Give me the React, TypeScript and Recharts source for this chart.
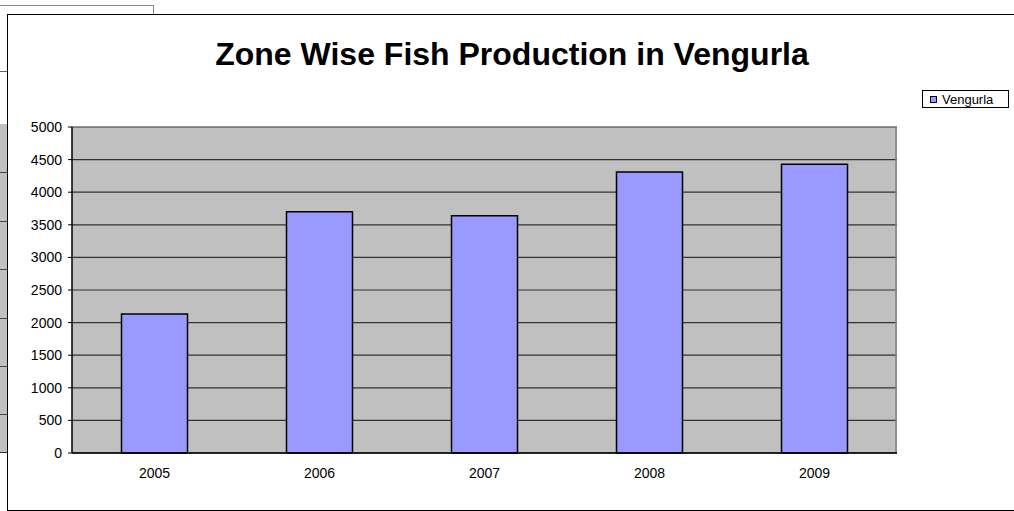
import { BarChart, Bar, XAxis, YAxis, CartesianGrid } from 'recharts';

const years = ['2005', '2006', '2007', '2008', '2009'];
const vengurla = [2130, 3700, 3640, 4310, 4430];
const yTicks = [0, 500, 1000, 1500, 2000, 2500, 3000, 3500, 4000, 4500, 5000];
const boundaryTicks = [0, 1, 2, 3, 4, 5];

const font = 'Arial, "Liberation Sans", sans-serif';

function VengurlaLegend() {
  return (
    <div
      style={{
        position: 'absolute',
        left: 922,
        top: 90,
        width: 85,
        height: 16,
        border: '1px solid #000',
        background: '#fff',
        display: 'flex',
        alignItems: 'center',
        fontFamily: font,
        fontSize: 13,
        color: '#000',
      }}
    >
      <span
        style={{
          display: 'inline-block',
          width: 5,
          height: 5,
          border: '1.5px solid #000',
          background: '#9999FF',
          marginLeft: 7,
          marginRight: 5,
        }}
      />
      Vengurla
    </div>
  );
}

export default function App() {
  const chartData = years.map((year, i) => ({ year, idx: i + 0.5, value: vengurla[i] }));

  return (
    <div style={{ position: 'absolute', left: 0, top: 0, width: 1014, height: 511, background: '#fff', overflow: 'hidden' }}>
      {/* bits of the spreadsheet behind the chart */}
      <div style={{ position: 'absolute', left: 0, top: 5, width: 153, height: 12, borderTop: '1px solid #888', borderRight: '1px solid #888' }} />
      <div style={{ position: 'absolute', left: 0, top: 71, width: 8, borderTop: '1px solid #666' }} />
      <div style={{ position: 'absolute', left: 0, top: 124, width: 8, height: 328, background: '#C0C0C0', borderBottom: '1px solid #333' }} />
      {[172, 221, 269, 318, 366, 414].map((y) => (
        <div key={y} style={{ position: 'absolute', left: 0, top: y, width: 8, borderTop: '1px solid #444' }} />
      ))}

      {/* chart area */}
      <div style={{ position: 'absolute', left: 7, top: 14, width: 1020, height: 495, border: '1.5px solid #000', background: '#fff' }} />
      <div
        style={{
          position: 'absolute',
          left: 0,
          top: 38,
          width: 1024,
          textAlign: 'center',
          fontFamily: font,
          fontWeight: 'bold',
          fontSize: 32,
          lineHeight: 1,
          color: '#000',
        }}
      >
        Zone Wise Fish Production in Vengurla
      </div>

      <div style={{ position: 'absolute', left: 0, top: 0 }}>
        <BarChart
          width={1014}
          height={511}
          data={chartData}
          margin={{ top: 127, right: 117, left: 12, bottom: 29 }}
          barCategoryGap="30%"
          style={{ fontFamily: font }}
        >
          <CartesianGrid vertical={false} stroke="#333" strokeWidth={1.2} fill="#C0C0C0" fillOpacity={1} />
          <CartesianGrid horizontal={false} verticalPoints={[896]} stroke="#808080" strokeWidth={1.5} />
          <XAxis
            xAxisId="edges"
            type="number"
            dataKey="idx"
            domain={[0, 5]}
            ticks={boundaryTicks}
            height={0}
            tick={false}
            tickSize={4}
            axisLine={false}
            tickLine={{ stroke: '#000' }}
          />
          <XAxis
            dataKey="year"
            height={29}
            tickLine={false}
            tickSize={0}
            tickMargin={15}
            axisLine={{ stroke: '#000', strokeWidth: 1.5 }}
            tick={{ fill: '#000', fontSize: 14, fontFamily: font }}
          />
          <YAxis
            width={60}
            domain={[0, 5000]}
            ticks={yTicks}
            interval={0}
            tickSize={4}
            tickMargin={6}
            axisLine={{ stroke: '#000', strokeWidth: 1.5 }}
            tickLine={{ stroke: '#000' }}
            tick={{ fill: '#000', fontSize: 14, fontFamily: font }}
          />
          <Bar dataKey="value" name="Vengurla" fill="#9999FF" stroke="#000" strokeWidth={1.5} isAnimationActive={false} />
        </BarChart>
      </div>
      <VengurlaLegend />
    </div>
  );
}
